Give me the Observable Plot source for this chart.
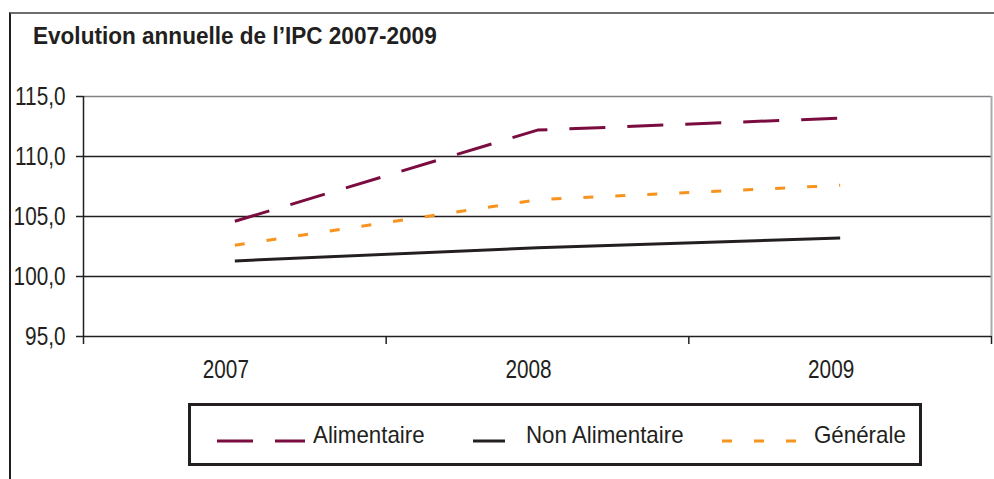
<!DOCTYPE html>
<html><head><meta charset="utf-8">
<script src="https://cdn.jsdelivr.net/npm/d3@7"></script>
<script src="https://cdn.jsdelivr.net/npm/@observablehq/plot@0.6"></script>
<style>
body{margin:0;background:#fff;}
#wrap{position:relative;width:994px;height:479px;overflow:hidden;font-family:"Liberation Sans",Arial,sans-serif;color:#231f20;}
#frame{position:absolute;left:9px;top:12px;width:1000px;height:480px;border-left:2px solid #231f20;border-top:2px solid #6d6e70;}
#title{position:absolute;left:33px;top:22px;font-weight:bold;font-size:24px;white-space:nowrap;transform:scaleX(0.94);transform-origin:0 0;}
#chart{position:absolute;left:0;top:0;}
#legend{position:absolute;left:188px;top:403px;width:728px;height:57px;border:3px solid #231f20;}
.lg-text{position:absolute;font-family:"Liberation Sans",sans-serif;font-size:24px;white-space:nowrap;line-height:1;transform:scaleX(0.93);transform-origin:0 0;}
.lg-sw{position:absolute;}
</style></head>
<body>
<div id="wrap">
  <div id="frame"></div>
  <div id="chart"></div>
  <div id="title">Evolution annuelle de l’IPC 2007-2009</div>
  <div id="legend"></div>
</div>
<script>
const years = ["2007", "2008", "2009"];
const alimentaire = [104.6, 112.2, 113.2];
const nonAlimentaire = [101.3, 102.4, 103.2];
const generale = [102.6, 106.4, 107.6];
const yTicks = [95, 100, 105, 110, 115];
const seriesNames = ["Alimentaire", "Non Alimentaire", "Générale"];
const seriesColors = ["#7b0c3f", "#231f20", "#f7931e"];
const seriesDash = ["36,22", null, "10,22"];

const seriesValues = [alimentaire, nonAlimentaire, generale];
const rows = seriesNames.map((name, s) =>
  years.map((year, i) => ({series: name, year, value: seriesValues[s][i]})));

const xPos = d => years.indexOf(d.year) + 0.5;
const fmt = d => d3.format(".1f")(d).replace(".", ",");

const chart = Plot.plot({
  width: 994,
  height: 479,
  marginLeft: 83,
  marginRight: 3,
  marginTop: 96,
  marginBottom: 143,
  x: {type: "linear", domain: [0, years.length], axis: null},
  y: {domain: [yTicks[0], yTicks[yTicks.length - 1]], axis: null},
  style: {fontFamily: `"Liberation Sans",sans-serif`, fontSize: "25px", color: "#231f20", background: "transparent", overflow: "visible"},
  marks: [
    Plot.gridY(yTicks.slice(1, -1), {stroke: "#231f20", strokeOpacity: 1, strokeWidth: 1.5}),
    Plot.ruleY([yTicks[yTicks.length - 1]], {stroke: "#808285", strokeWidth: 1.5}),
    Plot.ruleX([years.length], {stroke: "#a7a9ac", strokeWidth: 2}),
    Plot.ruleY([yTicks[0]], {stroke: "#231f20", strokeWidth: 1.5}),
    Plot.ruleX([0], {stroke: "#231f20", strokeWidth: 1.5}),
    Plot.axisY(yTicks, {tickSize: 7, tickPadding: 11, tickFormat: fmt, stroke: "#231f20", strokeWidth: 1.5, label: null}),
    Plot.axisX(years.map((_, i) => i + 0.5), {tickSize: 0, tickPadding: 24, dx: -9, tickFormat: v => years[Math.floor(v)], label: null}),
    Plot.axisX(d3.range(years.length + 1), {tickSize: 8, tickFormat: () => "", stroke: "#231f20", strokeWidth: 1.5, label: null}),
    ...rows.map((data, s) => Plot.line(data, {
      x: xPos, y: "value",
      stroke: seriesColors[s], strokeWidth: 3,
      strokeDasharray: seriesDash[s] || undefined,
      strokeLinecap: "butt"
    }))
  ]
});
document.getElementById("chart").append(chart);

// emulate the condensed face of the original: compress tick labels horizontally
chart.querySelectorAll("text").forEach(t => {
  const len = t.getComputedTextLength();
  if (len > 0) {
    t.setAttribute("textLength", (len * 0.83).toFixed(1));
    t.setAttribute("lengthAdjust", "spacingAndGlyphs");
  }
});

// legend (page coordinates of swatches and labels)
const legendLayout = [
  {sw: [217, 305], text: 313},
  {sw: [473, 505], text: 526},
  {sw: [722, 796], text: 814}
];
const legend = document.getElementById("legend");
const lx0 = 191, ly0 = 406, lineY = 441;
seriesNames.forEach((name, s) => {
  const L = legendLayout[s];
  const w = L.sw[1] - L.sw[0];
  const svg = d3.create("svg").attr("class", "lg-sw")
    .attr("width", w).attr("height", 6)
    .style("left", (L.sw[0] - lx0) + "px").style("top", (lineY - 3 - ly0) + "px");
  svg.append("line").attr("x1", 0).attr("x2", w).attr("y1", 3).attr("y2", 3)
    .attr("stroke", seriesColors[s]).attr("stroke-width", 3)
    .attr("stroke-dasharray", seriesDash[s] || null);
  legend.append(svg.node());
  const t = document.createElement("div");
  t.className = "lg-text";
  t.textContent = name;
  t.style.left = (L.text - lx0) + "px";
  t.style.top = (423 - ly0) + "px";
  legend.append(t);
});
</script>
</body></html>
